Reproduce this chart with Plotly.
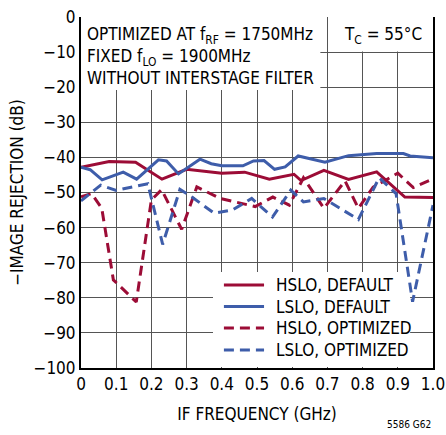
import plotly.graph_objects as go

# ---- data ----
hslo_def_x = [0, 0.08, 0.155, 0.23, 0.30, 0.40, 0.465, 0.535, 0.605, 0.625, 0.69, 0.76, 0.84, 0.92, 1.0]
hslo_def_y = [-42.8, -41.2, -41.4, -46.2, -43.4, -44.5, -44.2, -46.2, -44.8, -46.6, -43.7, -46.3, -44.1, -51.3, -51.4]

lslo_def_x = [0, 0.026, 0.06, 0.12, 0.158, 0.22, 0.243, 0.277, 0.338, 0.37, 0.40, 0.46, 0.49, 0.52,
              0.55, 0.58, 0.617, 0.693, 0.76, 0.84, 0.916, 0.935, 1.0]
lslo_def_y = [-42.8, -43.5, -46.4, -44.2, -46.2, -40.7, -41.0, -44.7, -40.5, -41.8, -42.4, -42.4, -41.0, -40.9,
              -43.4, -42.7, -39.6, -41.4, -39.5, -38.9, -38.9, -39.6, -40.1]

hslo_opt_x = [0, 0.03, 0.059, 0.092, 0.157, 0.20, 0.229, 0.286, 0.329, 0.395, 0.495, 0.545, 0.592, 0.632,
              0.69, 0.75, 0.788, 0.83, 0.90, 0.944, 1.0]
hslo_opt_y = [-51.2, -50.3, -54.5, -74.9, -81.2, -52.1, -49.2, -60.5, -48.4, -51.7, -54.0, -51.3, -53.6, -45.8,
              -54.5, -46.7, -54.5, -48.5, -44.5, -48.6, -46.1]

lslo_opt_x = [0, 0.056, 0.1, 0.19, 0.232, 0.281, 0.314, 0.378, 0.43, 0.485, 0.544, 0.596, 0.632, 0.69,
              0.788, 0.847, 0.895, 0.942, 1.0]
lslo_opt_y = [-52.4, -47.9, -49.4, -47.5, -64.8, -49.1, -51.2, -55.9, -55.0, -51.7, -57.0, -49.3, -52.7, -51.7,
              -57.7, -45.8, -50.3, -81.1, -53.6]

series_names = ["HSLO, DEFAULT", "LSLO, DEFAULT", "HSLO, OPTIMIZED", "LSLO, OPTIMIZED"]

x_ticks = [0, 0.1, 0.2, 0.3, 0.4, 0.5, 0.6, 0.7, 0.8, 0.9, 1.0]
x_labels = ["0", "0.1", "0.2", "0.3", "0.4", "0.5", "0.6", "0.7", "0.8", "0.9", "1.0"]
y_ticks = [0, -10, -20, -30, -40, -50, -60, -70, -80, -90, -100]
y_labels = ["0", "\u221210", "\u221220", "\u221230", "\u221240", "\u221250", "\u221260",
            "\u221270", "\u221280", "\u221290", "\u2212100"]

RED = "#9C0C36"
BLUE = "#3E5DAA"
DASH = "10px,6px"
FONT = "DejaVu Sans Condensed, Liberation Sans Narrow, sans-serif"
FS = 17

styles = [dict(color=RED, width=3, dash="solid"),
          dict(color=BLUE, width=3, dash="solid"),
          dict(color=RED, width=3, dash=DASH),
          dict(color=BLUE, width=3, dash=DASH)]
xs = [hslo_def_x, lslo_def_x, hslo_opt_x, lslo_opt_x]
ys = [hslo_def_y, lslo_def_y, hslo_opt_y, lslo_opt_y]

fig = go.Figure()
for name, x, y, st in zip(series_names, xs, ys, styles):
    fig.add_trace(go.Scatter(x=x, y=y, mode="lines", name=name, line=st, showlegend=False,
                             hoverinfo="skip"))

# white label boxes hiding the grid (drawn between grid and traces)
fig.add_shape(type="rect", xref="x", yref="y", x0=0, x1=0.68, y0=-20.8, y1=0,
              fillcolor="white", line=dict(width=0), layer="between")
fig.add_shape(type="rect", xref="x", yref="y", x0=0.703, x1=1.0, y0=-9.8, y1=0,
              fillcolor="white", line=dict(width=0), layer="between")
# legend box
fig.add_shape(type="rect", xref="x", yref="y", x0=0.375, x1=0.935, y0=-99.7, y1=-72.65,
              fillcolor="white", line=dict(width=0), layer="between")

row_y = [0.2365, 0.175, 0.114, 0.0513]
for name, st, ry in zip(series_names, styles, row_y):
    fig.add_shape(type="line", xref="paper", yref="paper", x0=0.406, x1=0.520, y0=ry, y1=ry,
                  line=dict(color=st["color"], width=3, dash=st["dash"]), layer="above")
    fig.add_annotation(xref="paper", yref="paper", x=0.549, y=ry, xanchor="left", yanchor="middle",
                       showarrow=False, text=name, font=dict(family=FONT, size=FS, color="black"))

fig.add_annotation(xref="paper", yref="paper", x=0.012, y=0.985, xanchor="left", yanchor="top",
                   align="left", showarrow=False,
                   text="OPTIMIZED AT f<sub>RF</sub> = 1750MHz<br>FIXED f<sub>LO</sub> = 1900MHz<br>WITHOUT INTERSTAGE FILTER",
                   font=dict(family=FONT, size=FS, color="black"))
fig.add_annotation(xref="paper", yref="paper", x=0.975, y=0.985, xanchor="right", yanchor="top",
                   showarrow=False, text="T<sub>C</sub> = 55°C",
                   font=dict(family=FONT, size=FS, color="black"))
fig.add_annotation(xref="paper", yref="paper", x=1.0, y=-0.162, xanchor="right", yanchor="middle",
                   showarrow=False, text="5586 G62",
                   font=dict(family=FONT, size=10, color="black"))

fig.update_layout(
    width=446, height=435,
    margin=dict(l=81, r=13, t=17, b=67),
    paper_bgcolor="white", plot_bgcolor="white",
    font=dict(family=FONT, size=FS, color="black"),
    showlegend=False,
    hovermode=False,
)
fig.update_xaxes(range=[0, 1.0], tickvals=x_ticks, ticktext=x_labels,
                 showgrid=True, gridcolor="#555555", gridwidth=1,
                 showline=True, linecolor="black", linewidth=2, mirror=False,
                 ticks="", zeroline=False, automargin=False,
                 title=dict(text="IF FREQUENCY (GHz)", font=dict(family=FONT, size=FS), standoff=15))
fig.update_yaxes(range=[-100, 0], tickvals=y_ticks, ticktext=y_labels,
                 showgrid=True, gridcolor="#555555", gridwidth=1,
                 showline=True, linecolor="black", linewidth=2, mirror=True,
                 ticks="", zeroline=False, automargin=False,
                 title=dict(text="\u2212IMAGE REJECTION (dB)", font=dict(family=FONT, size=FS), standoff=6))

fig.write_html("out.html", config={"displayModeBar": False},
               post_script="document.body.style.margin='0';")
